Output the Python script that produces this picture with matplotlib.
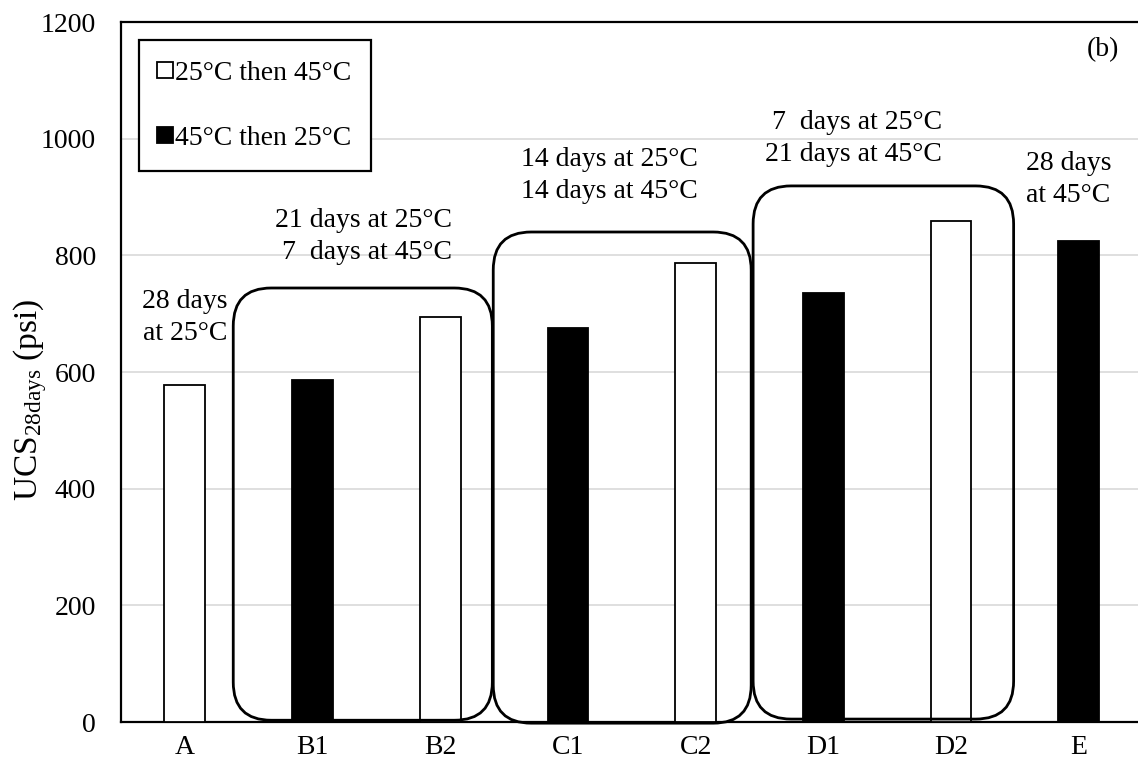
import matplotlib
matplotlib.use("Agg")
import matplotlib.pyplot as plt
from matplotlib.patches import FancyBboxPatch
from matplotlib.lines import Line2D

plt.rcParams['font.family'] = ['Liberation Serif', 'DejaVu Serif']
plt.rcParams['mathtext.fontset'] = 'custom'
plt.rcParams['mathtext.rm'] = 'Liberation Serif'
plt.rcParams['mathtext.it'] = 'Liberation Serif:italic'

# data
categories = ["A", "B1", "B2", "C1", "C2", "D1", "D2", "E"]
ucs_values = [577, 587, 694, 675, 787, 735, 859, 825]
bar_colors = ["white", "black", "white", "black", "white", "black", "white", "black"]
legend_labels = ["25°C then 45°C", "45°C then 25°C"]
notes = ["28 days\nat 25°C",
         "21 days at 25°C\n7  days at 45°C",
         "14 days at 25°C\n14 days at 45°C",
         "7  days at 25°C\n21 days at 45°C",
         "28 days\nat 45°C"]

# layout for notes and group boxes (x, y, ha)
note_pos = [(0.0, 693, "center"), (2.094, 832, "right"), (3.325, 937, "center"),
            (5.93, 1001, "right"), (6.92, 930, "center")]
group_boxes = [(0.379, 2.408, 3, 744), (2.415, 4.435, -2, 840), (4.45, 6.49, 5, 919)]

W, H = 1138, 759
fig = plt.figure(figsize=(W / 100, H / 100), dpi=100)
ax_l, ax_r, ax_t, ax_b = 121, 1138, 22, 722
ax = fig.add_axes([ax_l / W, 1 - ax_b / H, (ax_r - ax_l) / W, (ax_b - ax_t) / H])

step = 127.7  # px per category
x_hi = -0.5 + (ax_r - ax_l) / step
ax.set_xlim(-0.5, x_hi)
ax.set_ylim(0, 1200)

ax.bar(range(len(categories)), ucs_values, width=0.32, color=bar_colors,
       edgecolor="black", linewidth=1.3, zorder=3)

ax.set_yticks(range(0, 1201, 200))
ax.set_xticks(range(len(categories)))
ax.set_xticklabels(categories)
ax.tick_params(axis="y", length=0, pad=18, labelsize=20)
ax.tick_params(axis="x", length=0, pad=9, labelsize=20)
ax.yaxis.grid(True, color="#d9d9d9", linewidth=1.2, zorder=0)
ax.set_axisbelow(True)
for s in ["left", "bottom", "top"]:
    ax.spines[s].set_linewidth(1.6)
ax.spines["right"].set_visible(False)

ax.set_ylabel(r"UCS$_{\mathrm{28days}}$ (psi)", fontsize=24)
ax.yaxis.set_label_coords(-0.0708, 0.46)

# rounded boxes round the groups
px_x = step
px_y = (ax_b - ax_t) / 1200
r = 38 / px_x
for x0, x1, y0, y1 in group_boxes:
    box = FancyBboxPatch((x0, y0), x1 - x0, y1 - y0,
                         boxstyle="round,pad=0,rounding_size=%f" % r,
                         mutation_aspect=px_x / px_y,
                         facecolor="none", edgecolor="black", linewidth=2.0,
                         zorder=4, clip_on=False)
    ax.add_patch(box)

for txt, (x, y, ha) in zip(notes, note_pos):
    ax.text(x, y, txt, ha=ha, va="center", multialignment=ha, fontsize=20,
            linespacing=1.36, zorder=5)

ax.text(7.19, 1152, "(b)", ha="center", va="center", fontsize=20)

handles = [Line2D([], [], marker="s", markersize=11, markerfacecolor=c,
                  markeredgecolor="black", markeredgewidth=1.3, linestyle="none")
           for c in ["white", "black"]]
leg = ax.legend(handles, legend_labels, loc="upper left", fontsize=20,
                frameon=True, fancybox=False, framealpha=1, edgecolor="black",
                borderaxespad=0.65, borderpad=0.72, labelspacing=1.45,
                handlelength=0.45, handletextpad=0.12)
leg.get_frame().set_linewidth(1.6)
leg.set_zorder(6)

fig.savefig("out.png", dpi=100)
